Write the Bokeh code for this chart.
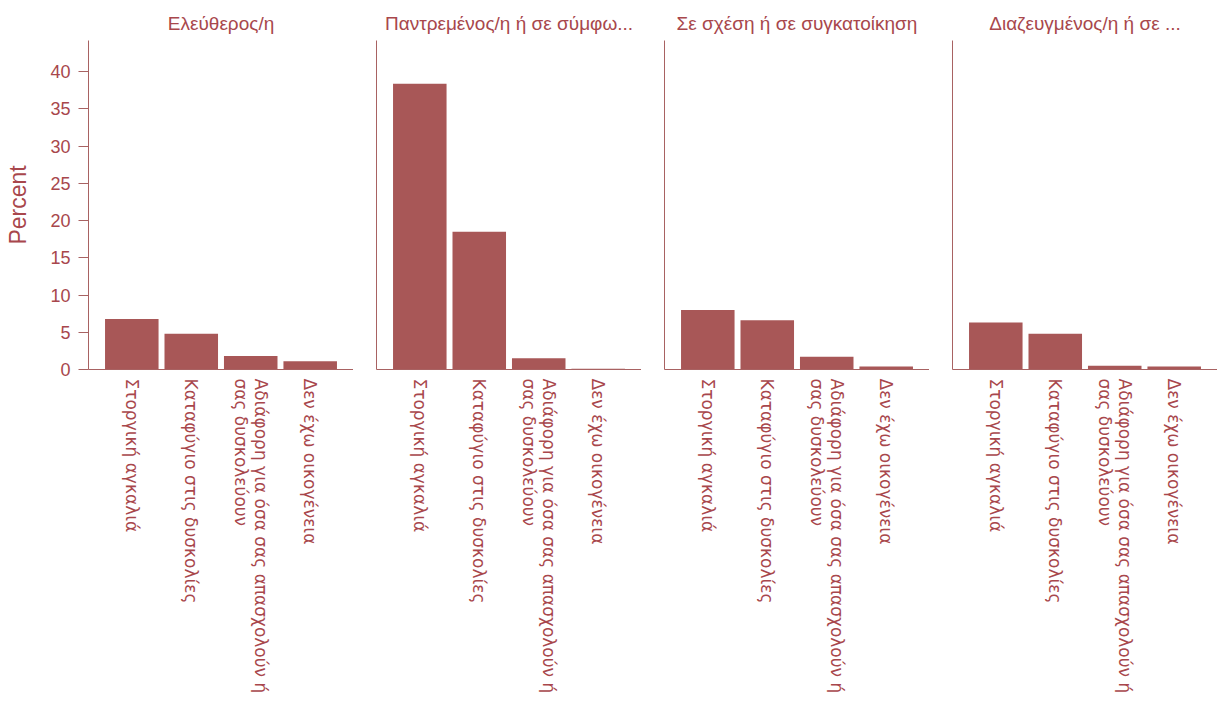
import math
from bokeh.plotting import figure
from bokeh.layouts import row
from bokeh.models import Range1d, FactorRange, ColumnDataSource
from bokeh.embed import file_html
from bokeh.resources import INLINE

groups = ["Ελεύθερος/η", "Παντρεμένος/η ή σε σύμφω...", "Σε σχέση ή σε συγκατοίκηση", "Διαζευγμένος/η ή σε ..."]
categories = ["Στοργική αγκαλιά", "Καταφύγιο στις δυσκολίες",
              "Αδιάφορη για όσα σας απασχολούν ή\nσας δυσκολεύουν", "Δεν έχω οικογένεια"]
single = [6.8, 4.8, 1.8, 1.1]
married = [38.4, 18.5, 1.5, 0.1]
relationship = [8.0, 6.6, 1.7, 0.4]
divorced = [6.3, 4.8, 0.5, 0.4]
series = [single, married, relationship, divorced]

BAR = "#A85757"
AXIS = "#A86262"
TEXT = "#A8474C"
LABEL_FONT = "DejaVu Sans"

y_range = Range1d(0, 44.2)
figs = []
for i, (g, vals) in enumerate(zip(groups, series)):
    p = figure(x_range=FactorRange(factors=categories, range_padding=0.114),
               y_range=y_range, frame_width=265, frame_height=329,
               output_backend="svg", toolbar_location=None,
               min_border_left=88 if i == 0 else 23, min_border_right=0,
               min_border_top=40, min_border_bottom=0)
    src = ColumnDataSource(dict(cat=categories, val=vals))
    p.vbar(x="cat", top="val", width=0.9, source=src, fill_color=BAR, line_color=None)
    p.title.text = g
    p.title.align = "center"
    p.title.text_font_size = "19px"
    p.title.text_font_style = "normal"
    p.title.text_color = TEXT
    p.title.text_font = "Liberation Sans"
    p.title.standoff = 14
    p.xgrid.visible = False
    p.ygrid.visible = False
    p.outline_line_color = None
    p.background_fill_color = "white"
    p.border_fill_color = "white"
    xa = p.xaxis[0]
    xa.axis_line_color = AXIS
    xa.major_tick_line_color = None
    xa.minor_tick_line_color = None
    xa.major_label_orientation = -math.pi / 2 + 1e-4
    xa.major_label_text_color = TEXT
    xa.major_label_text_font = LABEL_FONT
    xa.major_label_text_font_size = "17px"
    xa.major_label_text_line_height = 1.0
    xa.major_label_standoff = 3
    ya = p.yaxis[0]
    ya.axis_line_color = AXIS
    ya.minor_tick_line_color = None
    if i == 0:
        ya.ticker = [0, 5, 10, 15, 20, 25, 30, 35, 40]
        ya.major_tick_line_color = AXIS
        ya.major_tick_in = 0
        ya.major_tick_out = 10
        ya.major_label_standoff = 8
        ya.major_label_text_color = TEXT
        ya.major_label_text_font = "Liberation Sans"
        ya.major_label_text_font_size = "18px"
        ya.axis_label = "Percent"
        ya.axis_label_standoff = 16
        ya.axis_label_text_color = TEXT
        ya.axis_label_text_font = "Liberation Sans"
        ya.axis_label_text_font_size = "23px"
        ya.axis_label_text_font_style = "normal"
    else:
        ya.ticker = []
        ya.major_tick_line_color = None
        ya.major_label_text_font_size = "0px"
    figs.append(p)

layout = row(*figs, spacing=0)
open("out.html", "w").write(file_html(layout, INLINE))
